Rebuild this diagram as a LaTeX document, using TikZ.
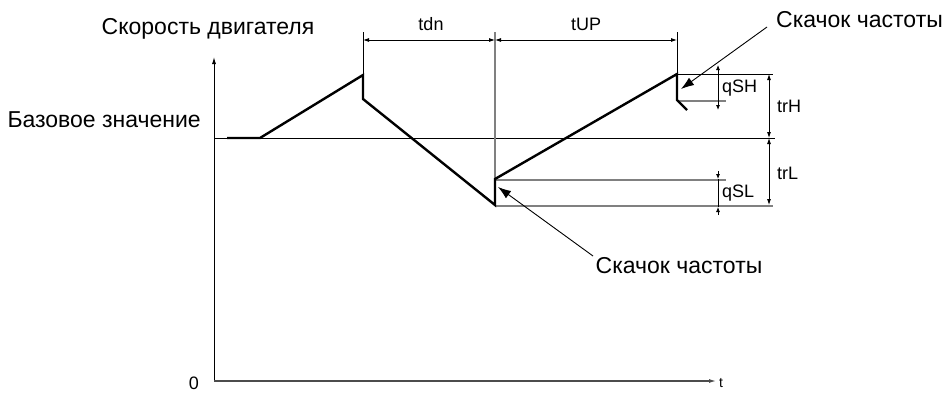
\documentclass[tikz,border=0pt]{standalone}
\usepackage{fontspec}
\setmainfont{Liberation Sans}
\usetikzlibrary{arrows.meta}
\begin{document}
\begin{tikzpicture}[x=1pt,y=-1pt,
  thinln/.style={line width=0.9pt,black},
  grayln/.style={line width=1.2pt,black!50},
  curve/.style={line width=2.4pt,black,line join=miter},
  dimarr/.style={line width=0.8pt,{Latex[length=6pt,width=4pt]}-{Latex[length=6pt,width=4pt]}},
  callout/.style={line width=0.9pt,-{Latex[length=13pt,width=9pt]}},
  lbl/.style={font=\fontsize{23}{23}\selectfont,inner sep=0pt},
  small/.style={font=\fontsize{18}{18}\selectfont,inner sep=0pt}]
\useasboundingbox (0,0) rectangle (944,392);
% axes
\coordinate (O) at (214,381);
\coordinate (Ytop) at (214,57);
\coordinate (Xend) at (716,381);
\draw[line width=0.9pt,-{Latex[length=7pt,width=4pt]}] (O) -- (Ytop);
\draw[line width=1.1pt,black!70,-{Latex[length=7pt,width=4pt]}] (O) -- (Xend);
\node[font=\fontsize{18}{18}\selectfont,inner sep=0pt,anchor=east] (zero) at (199,383) {0};
\node[font=\fontsize{14}{14}\selectfont,inner sep=0pt,anchor=west] (tl) at (719,383) {t};
% base line
\coordinate (B0) at (214,138);
\coordinate (B1) at (775,138);
\draw[thinln] (B0) -- (B1);
% curve points
\coordinate (P0) at (227,138);
\coordinate (P1) at (260,138);
\coordinate (P2) at (363,75);
\coordinate (P3) at (363,99);
\coordinate (P4) at (495,205);
\coordinate (P5) at (495,179);
\coordinate (P6) at (677,74);
\coordinate (P7) at (677,100);
\coordinate (P8) at (687,110);
% vertical guides
\coordinate (V1) at (363,32);
\coordinate (V2) at (495,32);
\coordinate (V3) at (677,32);
\draw[thinln] (V1) -- (P2);
\draw[grayln] (V2) -- (P4);
\draw[thinln] (V3) -- (P6);
% horizontal guides
\coordinate (H1) at (773,74);
\coordinate (H2a) at (677,101);
\coordinate (H2b) at (726,101);
\coordinate (H3a) at (495,180);
\coordinate (H3b) at (726,180);
\coordinate (H4a) at (495,206);
\coordinate (H4b) at (773,206);
\draw[thinln] (P6) -- (H1);
\draw[grayln] (H2a) -- (H2b);
\draw[grayln] (H3a) -- (H3b);
\draw[grayln] (H4a) -- (H4b);
% thick curve
\draw[curve] (P0) -- (P1) -- (P2) -- (P3) -- (P4) -- (P5) -- (P6) -- (P7) -- (P8);
% time dimensions
\coordinate (D1) at (363,40);
\coordinate (D2) at (495,40);
\coordinate (D3) at (677,40);
\draw[dimarr] (D1) -- (D2);
\draw[dimarr] (D2) -- (D3);
\node[small] (tdn) at (431,24) {tdn};
\node[small] (tUP) at (586,24) {tUP};
% qSH
\coordinate (qh1) at (718,65);
\coordinate (qh2) at (718,110);
\draw[line width=0.8pt,{Latex[length=5pt,width=4pt]}-{Latex[length=5pt,width=4pt]}] (qh1) -- (qh2);
\node[small,anchor=west] (qSH) at (722,88) {qSH};
% qSL
\coordinate (ql1) at (718,171);
\coordinate (ql2) at (718,215);
\coordinate (ql1t) at (718,179);
\coordinate (ql2t) at (718,207);
\draw[line width=0.8pt,-{Latex[length=5pt,width=4pt]}] (ql1) -- (ql1t);
\draw[line width=0.8pt,-{Latex[length=5pt,width=4pt]}] (ql2) -- (ql2t);
\draw[line width=0.8pt] (ql1t) -- (ql2t);
\node[small,anchor=west] (qSL) at (722,193) {qSL};
% trH / trL
\coordinate (tr1) at (769,74);
\coordinate (tr2) at (769,138);
\coordinate (tr3) at (769,205);
\draw[dimarr] (tr1) -- (tr2);
\draw[dimarr] (tr2) -- (tr3);
\node[small,anchor=west] (trH) at (777,106) {trH};
\node[small,anchor=west] (trL) at (777,173) {trL};
% labels
\node[lbl] (speed) at (208,29) {Скорость двигателя};
\node[lbl,anchor=east] (base) at (201,120) {Базовое значение};
\node[lbl,anchor=west] (jump1) at (776,20) {Скачок частоты};
\node[lbl] (jump2) at (679,266) {Скачок частоты};
% callouts
\coordinate (c1s) at (767,27);
\coordinate (c1e) at (681,89);
\coordinate (c2s) at (593,256);
\coordinate (c2e) at (498,187);
\draw[callout] (c1s) -- (c1e);
\draw[callout] (c2s) -- (c2e);
\end{tikzpicture}
\end{document}
